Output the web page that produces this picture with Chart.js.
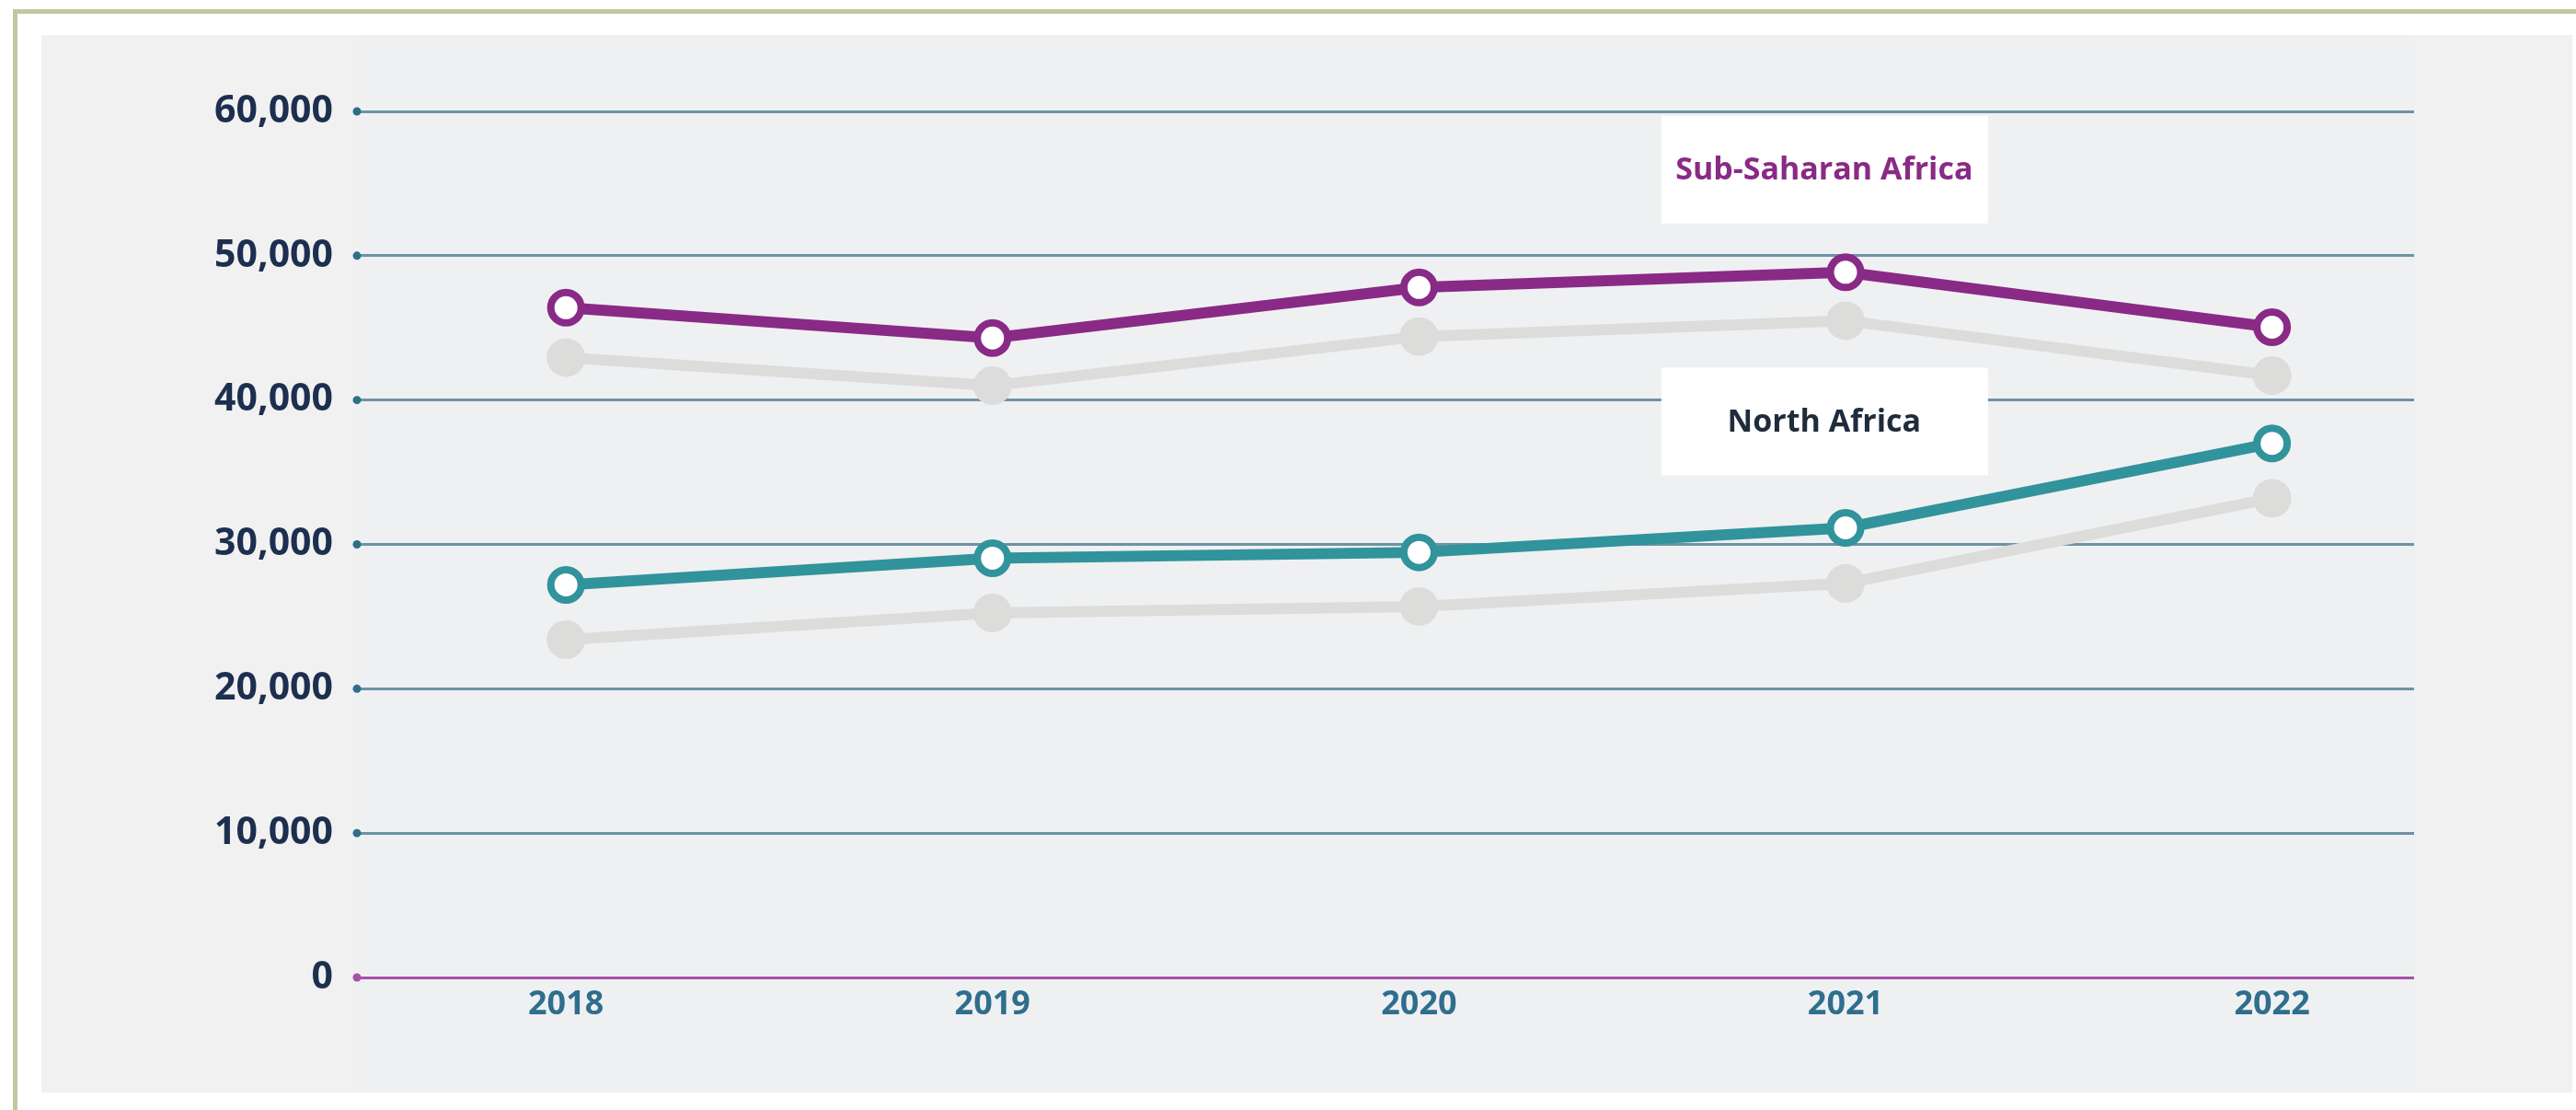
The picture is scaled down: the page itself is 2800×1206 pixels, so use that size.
<!DOCTYPE html>
<html>
<head>
<meta charset="utf-8">
<script src="https://cdn.jsdelivr.net/npm/chart.js@4/dist/chart.umd.min.js"></script>
<style>
  html, body { margin: 0; padding: 0; background: #ffffff; }
  body { width: 2800px; height: 1206px; position: relative; overflow: hidden; }
  #moldura { position: absolute; left: 14px; top: 10px; width: 2900px; height: 1300px;
    border-top: 5px solid #bec9a1; border-left: 5px solid #bec9a1; }
  #painel { position: absolute; left: 45px; top: 38px; width: 2751px; height: 1149px; background: #f1f1f1; }
  #grafico { position: absolute; left: 0; top: 0; }
</style>
</head>
<body>
<div id="moldura"></div>
<div id="painel"></div>
<canvas id="grafico" width="2800" height="1206"></canvas>
<script>
const grafico = document.getElementById('grafico'); // canvas do gráfico

// dados
const anos = [2018, 2019, 2020, 2021, 2022]
const subSaariana = [46400, 44300, 47800, 48850, 45050]
const subSaarianaCinza = [42950, 41000, 44400, 45500, 41700]
const norteAfrica = [27200, 29050, 29450, 31150, 37000]
const norteAfricaCinza = [23400, 25250, 25700, 27300, 33200]
const ticksY = [0, 10000, 20000, 30000, 40000, 50000, 60000]

const roxo = '#892a86'
const verde = '#31939b'
const cinza = '#dcdcdb'
const azulGrade = '#6d93a5'
const roxoZero = '#a552a8'

const pontos = (valores) => anos.map((ano, i) => ({ x: ano, y: valores[i] }))

// caixas brancas com o nome de cada série (posição em valores do gráfico)
const rotulos = [
  { texto: 'Sub-Saharan Africa', cor: roxo, x: 2020.95, y: 56000 },
  { texto: 'North Africa', cor: '#1f2c3b', x: 2020.95, y: 38550 },
]

const pluginCaixas = {
  id: 'caixas',
  beforeDraw(chart) {
    const { ctx, chartArea } = chart
    ctx.save()
    ctx.fillStyle = '#eff0f2'
    ctx.fillRect(chartArea.left, 39, chartArea.right - chartArea.left, 1148)
    ctx.restore()
  },
  beforeDatasetsDraw(chart) {
    const { ctx, scales } = chart
    ctx.save()
    // bolinhas no começo de cada linha de grade
    ticksY.forEach(v => {
      ctx.beginPath()
      ctx.fillStyle = v === 0 ? roxoZero : '#2f6f8a'
      ctx.arc(chart.chartArea.left, scales.y.getPixelForValue(v), 4.5, 0, Math.PI * 2)
      ctx.fill()
    })
    rotulos.forEach(r => {
      const cx = scales.x.getPixelForValue(r.x)
      const cy = scales.y.getPixelForValue(r.y)
      ctx.fillStyle = '#ffffff'
      ctx.fillRect(cx - 177, cy - 58, 355, 117)
      ctx.fillStyle = r.cor
      ctx.font = '700 34px "Open Sans"'
      ctx.textAlign = 'center'
      ctx.textBaseline = 'middle'
      ctx.fillText(r.texto, cx, cy + 2)
    })
    ctx.restore()
  }
}

const dados = {
  datasets: [
    {
      label: 'Sub-Saharan Africa',
      data: pontos(subSaariana),
      borderColor: roxo,
      borderWidth: 12,
      pointRadius: 16.5,
      pointBorderWidth: 8,
      pointBackgroundColor: '#ffffff',
      pointBorderColor: roxo,
      order: 1
    },
    {
      label: 'North Africa',
      data: pontos(norteAfrica),
      borderColor: verde,
      borderWidth: 12,
      pointRadius: 16.5,
      pointBorderWidth: 8,
      pointBackgroundColor: '#ffffff',
      pointBorderColor: verde,
      order: 2
    },
    {
      label: 'Sub-Saharan Africa (grey)',
      data: pontos(subSaarianaCinza),
      borderColor: cinza,
      borderWidth: 12,
      pointRadius: 21,
      pointBorderWidth: 0,
      pointBackgroundColor: cinza,
      order: 3
    },
    {
      label: 'North Africa (grey)',
      data: pontos(norteAfricaCinza),
      borderColor: cinza,
      borderWidth: 12,
      pointRadius: 21,
      pointBorderWidth: 0,
      pointBackgroundColor: cinza,
      order: 4
    }
  ]
}

const opcoes = {
  responsive: false,
  devicePixelRatio: 1,
  animation: false,
  layout: { padding: { left: 0, right: 176, top: 121, bottom: 0 } },
  scales: {
    x: {
      type: 'linear',
      min: 2017.51,
      max: 2022.333,
      afterBuildTicks: (eixo) => { eixo.ticks = anos.map(a => ({ value: a })) },
      afterFit: (eixo) => { eixo.height = 144 },
      grid: { display: false },
      border: { display: false },
      ticks: {
        color: '#2f6e8d',
        font: { family: 'Open Sans', size: 36, weight: 'bold' },
        padding: 0,
        callback: (v) => String(v)
      }
    },
    y: {
      min: 0,
      max: 60000,
      afterBuildTicks: (eixo) => { eixo.ticks = ticksY.map(v => ({ value: v })) },
      afterFit: (eixo) => { eixo.width = 388 },
      border: { display: false },
      grid: {
        drawTicks: false,
        lineWidth: 3,
        color: (c) => c.tick && c.tick.value === 0 ? roxoZero : azulGrade
      },
      ticks: {
        color: '#1d2f4f',
        font: { family: 'Open Sans', size: 41, weight: 'bold' },
        padding: 26,
        callback: (v) => v.toLocaleString('en-US')
      }
    }
  },
  plugins: {
    legend: { display: false },
    tooltip: { enabled: false }
  }
}

new Chart(grafico, { type: 'line', data: dados, options: opcoes, plugins: [pluginCaixas] })
</script>
</body>
</html>
